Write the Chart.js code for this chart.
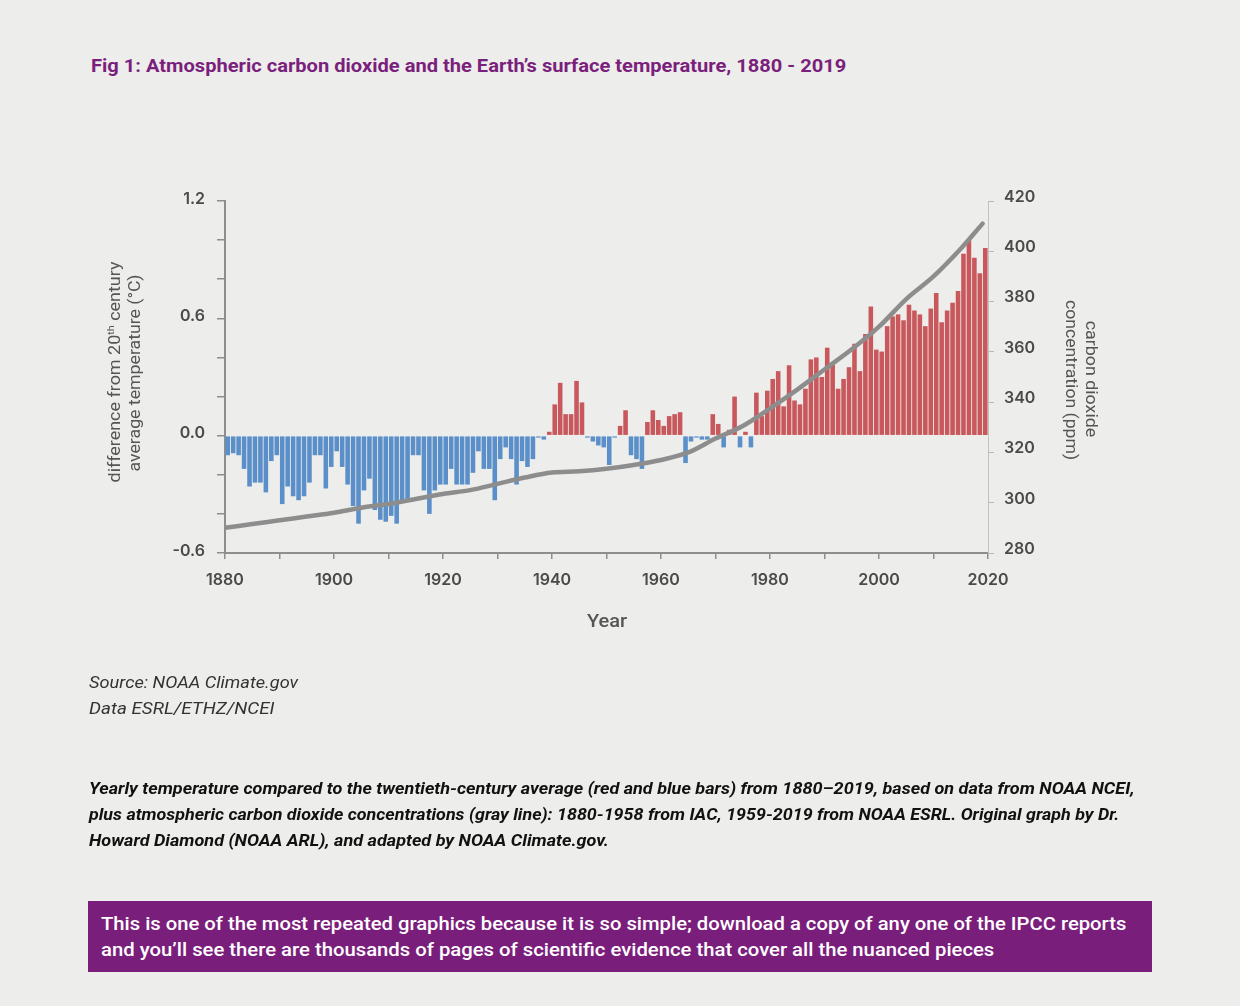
<!DOCTYPE html>
<html>
<head>
<meta charset="utf-8">
<script src="https://cdn.jsdelivr.net/npm/chart.js@4.4.1/dist/chart.umd.min.js"></script>
<style>
html, body { margin: 0; padding: 0; }
body { width: 1240px; height: 1006px; background: #ededeb; position: relative; overflow: hidden; font-family: Roboto, "Noto Sans", sans-serif; }
#chart { position: absolute; left: 0; top: 0; }
.t { position: absolute; white-space: nowrap; transform-origin: 0 50%; }
.r { position: absolute; white-space: nowrap; font-size: 16px; line-height: 16px; color: #555; }
sup { font-size: 0.6em; vertical-align: 0.6em; line-height: 0; }
#title { left: 91px; top: 55px; font-size: 19px; line-height: 22px; font-weight: 700; color: #7b1f7d; }
.src { left: 89px; font-size: 17px; line-height: 20px; font-style: italic; color: #333; }
.cap { left: 89px; font-size: 17px; line-height: 20px; font-style: italic; font-weight: 700; color: #111; }
#box { position: absolute; left: 88px; top: 901px; width: 1064px; height: 71px; background: #7a1e7c; }
.bx { left: 101px; font-size: 19px; line-height: 22px; font-weight: 500; color: #fff; }
#year { left: 587px; top: 611px; font-size: 18px; line-height: 20px; font-weight: 500; color: #555; }
</style>
</head>
<body>
<div id="title" class="t" data-w="755">Fig 1: Atmospheric carbon dioxide and the Earth’s surface temperature, 1880 - 2019</div>

<canvas id="chart" width="1240" height="1006"></canvas>

<div class="r" style="left:115px;top:372px" data-w="221" data-pre="translate(-50%,-50%) rotate(-90deg)">difference from 20<sup>th</sup> century</div>
<div class="r" style="left:135px;top:373px" data-w="197" data-pre="translate(-50%,-50%) rotate(-90deg)">average temperature (°C)</div>
<div class="r" style="left:1091px;top:379px" data-w="117" data-pre="translate(-50%,-50%) rotate(90deg)">carbon dioxide</div>
<div class="r" style="left:1071px;top:380px" data-w="160" data-pre="translate(-50%,-50%) rotate(90deg)">concentration (ppm)</div>

<div id="year" class="t" data-w="40">Year</div>

<div class="t src" style="top:672px" data-w="209">Source: NOAA Climate.gov</div>
<div class="t src" style="top:698px" data-w="186">Data ESRL/ETHZ/NCEI</div>

<div class="t cap" style="top:778px" data-w="1046">Yearly temperature compared to the twentieth-century average (red and blue bars) from 1880–2019, based on data from NOAA NCEI,</div>
<div class="t cap" style="top:804px" data-w="1030">plus atmospheric carbon dioxide concentrations (gray line): 1880-1958 from IAC, 1959-2019 from NOAA ESRL. Original graph by Dr.</div>
<div class="t cap" style="top:830px" data-w="520">Howard Diamond (NOAA ARL), and adapted by NOAA Climate.gov.</div>

<div id="box"></div>
<div class="t bx" style="top:913px" data-w="1025">This is one of the most repeated graphics because it is so simple; download a copy of any one of the IPCC reports</div>
<div class="t bx" style="top:939px" data-w="893">and you’ll see there are thousands of pages of scientific evidence that cover all the nuanced pieces</div>

<script>
// yearly temperature anomaly (°C vs 20th century average), 1880-2019, one row per decade
const firstYear = 1880;
const anomaly = [
    -0.10, -0.09, -0.10, -0.17, -0.26, -0.24, -0.24, -0.29, -0.13, -0.10,
    -0.35, -0.26, -0.31, -0.33, -0.31, -0.24, -0.10, -0.10, -0.27, -0.16,
    -0.08, -0.16, -0.25, -0.36, -0.45, -0.28, -0.22, -0.38, -0.43, -0.44,
    -0.41, -0.45, -0.33, -0.33, -0.10, -0.10, -0.28, -0.40, -0.28, -0.25,
    -0.25, -0.17, -0.25, -0.25, -0.25, -0.19, -0.08, -0.17, -0.17, -0.33,
    -0.12, -0.06, -0.12, -0.25, -0.13, -0.16, -0.12, -0.01, -0.02, 0.02,
    0.16, 0.27, 0.11, 0.11, 0.28, 0.17, -0.01, -0.03, -0.05, -0.06,
    -0.15, -0.01, 0.05, 0.13, -0.10, -0.12, -0.17, 0.07, 0.13, 0.08,
    0.05, 0.10, 0.11, 0.12, -0.14, -0.03, -0.01, -0.02, -0.02, 0.11,
    0.06, -0.06, 0.03, 0.20, -0.06, 0.02, -0.06, 0.22, 0.10, 0.23,
    0.29, 0.33, 0.15, 0.36, 0.18, 0.16, 0.24, 0.39, 0.40, 0.30,
    0.45, 0.37, 0.24, 0.29, 0.35, 0.47, 0.33, 0.52, 0.66, 0.44,
    0.43, 0.56, 0.61, 0.62, 0.59, 0.67, 0.64, 0.62, 0.56, 0.65,
    0.73, 0.58, 0.64, 0.68, 0.74, 0.93, 1.00, 0.91, 0.83, 0.96,
];
const years = anomaly.map((_, i) => firstYear + i);

// CO2 concentration (ppm)
const co2Years = [1880, 1885, 1890, 1895, 1900, 1905, 1910, 1915, 1920, 1925, 1930, 1935, 1940, 1945,
    1950, 1955, 1960, 1965, 1970, 1975, 1980, 1985, 1990, 1995, 2000, 2005, 2010, 2015, 2019];
const co2ppm = [290, 291.5, 293, 294.5, 296, 298, 299.5, 301.5, 303.5, 305, 307.5, 310, 312, 312.5,
    313.5, 315, 317, 320, 325.5, 330.5, 337.5, 345, 353, 361, 370, 381, 390, 401, 411];

// tick labels
const xLabels = [1880, 1900, 1920, 1940, 1960, 1980, 2000, 2020];
const yLabels = [1.2, 0.6, 0.0, -0.6];

const red = '#c8585c';
const blue = '#5b8fc9';
const axisGray = '#8e8e8e';
const tickFont = { family: 'Inter', size: 16, weight: '600' };
const tickColor = '#4a4a4a';

const ctx = document.getElementById('chart').getContext('2d');
const chart = new Chart(ctx, {
    data: {
        datasets: [
            {
                type: 'line',
                label: 'carbon dioxide',
                data: co2Years.map((y, i) => ({ x: y, y: co2ppm[i] })),
                yAxisID: 'y2',
                borderColor: '#8d8d8d',
                borderWidth: 4.5,
                borderCapStyle: 'round',
                pointRadius: 0,
                tension: 0.35,
                order: 0,
            },
            {
                type: 'bar',
                label: 'temperature',
                data: years.map((y, i) => ({ x: y + 0.5, y: anomaly[i] })),
                yAxisID: 'y',
                backgroundColor: anomaly.map(v => (v >= 0 ? red : blue)),
                barPercentage: 0.84,
                categoryPercentage: 1,
                order: 1,
            },
        ],
    },
    options: {
        responsive: false,
        animation: false,
        devicePixelRatio: 1,
        layout: { padding: { top: 201, left: 150, right: 192, bottom: 413 } },
        plugins: { legend: { display: false }, tooltip: { enabled: false } },
        scales: {
            x: {
                type: 'linear',
                min: 1880,
                max: 2020,
                offset: false,
                ticks: {
                    stepSize: 10,
                    autoSkip: false,
                    maxRotation: 0,
                    padding: 12,
                    font: tickFont,
                    color: tickColor,
                    callback: v => (xLabels.includes(v) ? String(v) : ''),
                },
                grid: { offset: false, drawOnChartArea: false, tickLength: 6, color: axisGray, lineWidth: 1.5 },
                border: { color: axisGray, width: 2 },
                afterFit: s => { s.height = 40; },
            },
            y: {
                position: 'left',
                min: -0.6,
                max: 1.2,
                ticks: {
                    stepSize: 0.2,
                    autoSkip: false,
                    padding: 12,
                    labelOffset: -2,
                    font: tickFont,
                    color: tickColor,
                    callback: v => {
                        const r = Math.round(v * 10) / 10;
                        return yLabels.includes(r) ? r.toFixed(1) : '';
                    },
                },
                grid: { drawOnChartArea: false, tickLength: 8, color: axisGray, lineWidth: 1.5 },
                border: { color: axisGray, width: 2 },
                afterFit: s => { s.width = 75; },
            },
            y2: {
                position: 'right',
                min: 280,
                max: 420,
                ticks: { stepSize: 20, padding: 10, labelOffset: -4, font: tickFont, color: tickColor },
                grid: { drawOnChartArea: false, tickLength: 6, color: '#b8b8b8', lineWidth: 1 },
                border: { color: '#c2c2c2', width: 1 },
                afterFit: s => { s.width = 60; },
            },
        },
    },
});

function fitText() {
    document.querySelectorAll('[data-w]').forEach(el => {
        const k = parseFloat(el.dataset.w) / el.offsetWidth;
        const pre = el.dataset.pre || '';
        el.style.transform = pre + ' scaleX(' + k.toFixed(4) + ')';
    });
}
fitText();
if (document.fonts) document.fonts.ready.then(fitText);
</script>
</body>
</html>
